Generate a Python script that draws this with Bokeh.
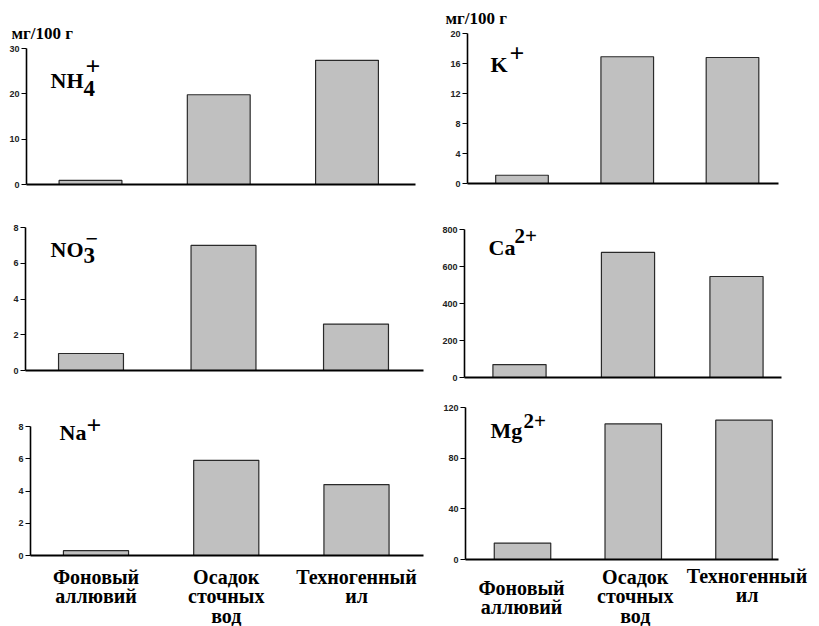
from bokeh.plotting import figure
from bokeh.layouts import column, row
from bokeh.models import FixedTicker, Label, LabelSet, Range1d, ColumnDataSource
from bokeh.embed import file_html
from bokeh.resources import INLINE

# ---------------- data ----------------
categories = ["Фоновый аллювий", "Осадок сточных вод", "Техногенный ил"]
nh4 = [0.9, 19.8, 27.4]
k = [1.1, 16.9, 16.8]
no3 = [0.95, 7.0, 2.6]
ca = [70, 676, 546]
na = [0.3, 5.9, 4.4]
mg = [13, 107, 110]

ticks_nh4 = [0, 10, 20, 30]
ticks_k = [0, 4, 8, 12, 16, 20]
ticks_no3 = [0, 2, 4, 6, 8]
ticks_ca = [0, 200, 400, 600, 800]
ticks_na = [0, 2, 4, 6, 8]
ticks_mg = [0, 40, 80, 120]

unit_text = "мг/100 г"

positions = [i + 0.5 for i in range(len(categories))]

SERIF = "Liberation Serif"
SANS = "Liberation Sans"
BAR_FILL = "#c0c0c0"


def panel(values, ticks, box, ypx, xpx, bar_w):
    """box = (page left, page top, width, height) of the figure;
    ypx = (page y of top tick, page y of zero);
    xpx = (page x of first bar centre, bar spacing, page x of y-axis, page x of axis end)."""
    fl, ft, w, h = box
    t_ref, z_ref = ypx
    c0, s, ax_x, ax_end = xpx
    vmax = ticks[-1]
    ppu = (z_ref - t_ref) / vmax
    y0 = -(ft + h - z_ref) / ppu
    y1 = (z_ref - ft) / ppu
    to_x = lambda px: 0.5 + (px - c0) / s
    p = figure(width=w, height=h, output_backend="svg", toolbar_location=None,
               x_range=Range1d(to_x(fl), to_x(fl + w)), y_range=Range1d(y0, y1),
               min_border_left=0, min_border_right=0,
               min_border_top=0, min_border_bottom=0)
    p.outline_line_color = None
    p.xgrid.visible = False
    p.ygrid.visible = False
    p.background_fill_color = "white"
    p.border_fill_color = "white"
    p.vbar(x=positions, top=values, bottom=0, width=bar_w, fill_color=BAR_FILL,
           line_color="#2a2a2a", line_width=1.2)
    ya = p.yaxis[0]
    ya.fixed_location = to_x(ax_x)
    ya.ticker = FixedTicker(ticks=ticks)
    ya.bounds = (0, vmax)
    ya.axis_line_width = 1.6
    ya.axis_line_color = "black"
    ya.major_tick_out = 5
    ya.major_tick_in = 0
    ya.major_tick_line_width = 1
    ya.minor_tick_line_color = None
    ya.major_label_text_font = SANS
    ya.major_label_text_font_style = "bold"
    ya.major_label_text_font_size = "9px"
    ya.major_label_text_color = "#222222"
    ya.major_label_standoff = 2
    xa = p.xaxis[0]
    xa.fixed_location = 0
    xa.bounds = (to_x(ax_x), to_x(ax_end))
    xa.ticker = FixedTicker(ticks=[])
    xa.axis_line_width = 2.2
    xa.axis_line_color = "black"
    xa.major_tick_out = 0
    xa.major_tick_in = 0
    xa.major_tick_line_color = None
    xa.minor_tick_line_color = None
    return p


def put(p, text, x, y, size):
    p.add_layout(Label(x=x, y=y, x_units="canvas", y_units="canvas", text=text,
                       text_font=SERIF, text_font_style="bold",
                       text_font_size=size, text_color="black",
                       text_baseline="middle", text_align="left"))


def category_labels(p, first_line_drop, line_gap, x_offsets):
    xs, ys, texts, yo, xo = [], [], [], [], []
    for pos, cat, drop, dx in zip(positions, categories, first_line_drop, x_offsets):
        for j, word in enumerate(cat.split(" ")):
            xs.append(pos)
            ys.append(0)
            texts.append(word)
            yo.append(-(drop + j * line_gap))
            xo.append(dx)
    src = ColumnDataSource(dict(x=xs, y=ys, text=texts, yo=yo, xo=xo))
    p.add_layout(LabelSet(x="x", y="y", text="text", source=src,
                          x_offset="xo", y_offset="yo",
                          text_font=SERIF, text_font_style="bold",
                          text_font_size="20px", text_color="black",
                          text_align="center", text_baseline="middle"))


LW, RW = 438, 373

# row 1
p_nh4 = panel(nh4, ticks_nh4, (0, 0, LW, 200), (48, 184), (90, 128.25, 26, 415), 0.49)
put(p_nh4, unit_text, 11, 33, "17px")
put(p_nh4, "NH", 50, 79.5, "22px")
put(p_nh4, "4", 83, 88, "23px")
put(p_nh4, "+", 85, 66, "26px")

p_k = panel(k, ticks_k, (LW, 0, RW, 200), (33, 183), (521.5, 105.25, 467, 778), 0.5)
put(p_k, unit_text, 7, 18, "17px")
put(p_k, "K", 52, 64, "22px")
put(p_k, "+", 71, 53, "26px")

# row 2
p_no3 = panel(no3, ticks_no3, (0, 200, LW, 192), (227, 370), (90.5, 132.5, 25, 423), 0.49)
put(p_no3, "NO", 50, 49, "22px")
put(p_no3, "3", 83, 54.5, "23px")
put(p_no3, "−", 85, 38.5, "22px")

p_ca = panel(ca, ticks_ca, (LW, 200, RW, 192), (229, 377), (519, 108.5, 464, 781), 0.49)
put(p_ca, "Ca", 50, 46.5, "22px")
put(p_ca, "2+", 76, 35.5, "21px")

# row 3
p_na = panel(na, ticks_na, (0, 392, LW, 234), (426, 555), (95.5, 130.25, 30, 423), 0.5)
put(p_na, "Na", 59, 40, "22px")
put(p_na, "+", 86, 33, "26px")
category_labels(p_na, [21, 21, 21], 19.5, [0, 0, 0])

p_mg = panel(mg, ticks_mg, (LW, 392, RW, 234), (407, 559), (522, 110.75, 465, 778), 0.51)
put(p_mg, "Mg", 52, 37.5, "22px")
put(p_mg, "2+", 85, 28, "21px")
category_labels(p_mg, [28, 17, 16], 19.5, [-1, 2, 3])

layout = column(row(p_nh4, p_k), row(p_no3, p_ca), row(p_na, p_mg))

open("out.html", "w").write(file_html(layout, INLINE))
